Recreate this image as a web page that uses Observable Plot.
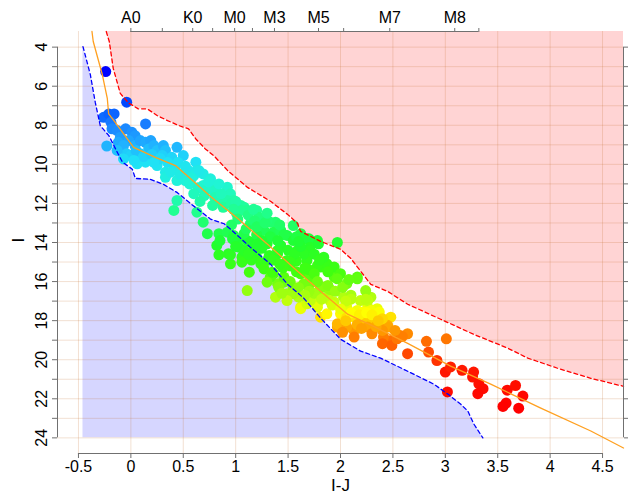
<!DOCTYPE html>
<html>
<head>
<meta charset="utf-8">
<script src="https://cdn.jsdelivr.net/npm/d3@7"></script>
<script src="https://cdn.jsdelivr.net/npm/@observablehq/plot@0.6"></script>
<style>
  html, body { margin: 0; padding: 0; background: white; }
  svg { display: block; }
</style>
</head>
<body>
<div id="chart"></div>
<script>
// ---- data: I-J colour and I magnitude of each star ----
const ij = [
-0.24,-0.04,-0.26,-0.21,-0.16,-0.19,0.14,-0.18,-0.13,-0.05,
-0.10,0.01,0.04,-0.02,-0.23,-0.12,-0.07,-0.04,0.04,0.09,
0.14,0.19,0.17,0.22,0.25,0.00,0.06,0.14,0.09,0.31,
0.33,0.44,0.30,0.39,0.50,0.25,0.42,0.62,0.33,0.55,
0.63,-0.13,-0.07,0.33,0.44,0.69,0.76,0.92,0.82,0.95,
1.08,1.20,1.01,0.89,0.41,0.44,0.63,0.69,0.73,0.84,
0.92,0.52,0.60,0.65,0.69,0.76,0.79,0.95,0.85,1.05,
1.11,1.24,1.33,1.38,1.55,0.82,0.93,0.95,1.06,1.13,
1.03,1.11,1.20,1.24,1.11,1.30,1.40,1.36,1.38,1.49,
1.62,1.78,1.71,1.81,1.78,1.70,1.97,2.16,2.29,2.48,
2.35,2.26,2.00,1.97,2.13,2.06,2.19,2.26,2.32,2.45,
2.48,2.57,2.64,2.41,2.13,1.81,1.78,1.87,1.94,1.68,
1.60,1.55,1.46,1.40,1.33,0.98,0.92,1.05,1.22,1.30,
1.27,1.36,1.43,1.49,1.62,1.68,1.55,1.14,1.08,0.98,
0.85,1.01,1.14,1.30,1.43,1.71,0.97,0.84,0.95,1.06,
1.32,1.17,1.08,1.27,1.35,1.30,1.41,1.46,1.55,1.49,
1.62,1.68,1.78,1.62,1.71,1.81,1.68,1.87,1.94,1.90,
1.87,1.49,1.40,1.59,1.71,1.79,1.65,1.84,1.78,1.94,
2.00,1.97,2.16,2.06,2.24,2.19,2.26,2.03,1.84,1.65,
1.71,2.06,2.16,2.29,2.37,2.22,2.13,1.97,2.26,2.38,
2.45,2.06,2.22,2.30,2.40,2.40,2.49,2.54,2.59,2.64,
2.82,3.01,2.84,2.92,3.00,3.05,3.16,3.26,3.27,3.32,
3.36,3.31,3.02,3.59,3.67,3.74,3.58,3.55,3.70,
1.20,1.25,1.52,1.58,1.70,1.90,2.10,1.75,
0.05,0.12,0.20,0.28,0.35,0.45,0.52,0.38,0.47,0.58,0.22,0.03,
0.56,0.64,0.72,0.70,0.80,0.86,0.60,0.66,0.78,0.88,0.96,1.00,0.74,0.84,0.98,
1.12,1.18,1.02,0.96,1.10,1.20,1.28,1.42,1.46,1.33,1.25,1.40,1.58,1.17,1.30,
1.50,1.56,1.62,1.75,1.80,1.52,1.45,1.58,1.66,1.75,1.88,1.20,1.36,1.42,1.15,1.00,1.12,1.60,
1.52,1.60,1.70,1.78,1.88,1.95,2.02,2.10,1.82,1.92,2.05,1.66,1.44,2.08,2.24,
2.00,2.10,2.18,2.25,2.30,2.40,2.16,2.05,2.34,2.20,2.02,2.52,2.36
];
const mag = [
5.25,6.82,7.59,7.42,7.42,7.85,7.93,8.18,8.27,8.18,
8.61,8.36,8.53,8.78,9.06,8.87,9.04,9.46,9.04,8.78,
8.87,8.78,9.21,9.04,9.29,9.55,9.97,9.89,9.46,9.04,
9.29,9.13,9.55,9.64,9.55,10.06,10.15,9.89,10.40,10.32,
10.32,9.29,9.72,10.66,10.83,10.49,11.00,11.17,11.43,11.68,
12.19,12.36,12.53,11.85,12.36,11.85,12.45,12.96,13.55,13.55,
13.47,10.83,10.57,10.32,11.08,10.74,11.34,11.51,11.85,12.11,
12.36,12.79,12.96,12.96,13.13,14.15,14.58,15.09,14.75,15.52,
14.24,16.46,14.75,15.09,13.90,14.92,14.58,15.60,16.80,16.62,
17.31,16.62,16.11,15.26,13.90,13.81,14.00,15.77,16.80,17.82,
17.39,17.31,17.65,18.33,18.50,17.82,18.16,17.82,17.99,18.24,
19.01,18.76,18.67,18.84,18.84,17.82,17.14,16.80,17.05,16.88,
16.80,16.29,16.03,16.11,15.77,11.85,11.85,12.36,12.71,12.87,
13.38,13.47,13.38,13.64,13.55,13.81,13.90,13.04,13.55,13.64,
13.90,13.90,13.98,14.07,14.15,14.24,13.81,14.63,14.63,15.01,
14.67,14.41,14.41,15.35,15.52,16.03,16.29,15.77,16.62,16.97,
17.39,17.14,17.31,15.60,15.77,16.29,14.92,15.09,15.77,16.97,
17.65,14.92,14.41,14.41,14.41,14.07,14.58,14.75,15.18,15.26,
15.60,15.86,15.86,16.11,16.46,16.97,16.97,16.80,16.29,16.11,
16.97,17.31,17.48,17.48,17.56,17.99,17.82,18.16,18.33,18.16,
18.33,18.33,17.56,18.67,18.50,19.18,19.27,18.93,18.81,19.69,
19.06,18.93,19.61,20.04,20.63,20.37,20.54,20.89,20.63,21.23,
21.48,21.74,21.65,21.56,21.32,21.86,22.22,22.39,22.48,
13.60,14.30,15.20,14.95,15.40,16.40,16.70,16.60,
9.30,9.60,9.50,9.70,9.90,9.90,10.10,10.40,10.50,10.70,9.90,9.80,
11.00,11.20,11.30,11.60,11.70,11.50,11.50,11.90,12.10,12.20,12.00,11.90,10.90,11.00,12.30,
12.60,12.90,12.80,13.10,13.30,13.20,13.00,13.10,13.60,13.70,13.90,13.90,13.70,12.30,12.50,
14.40,14.60,14.20,14.60,14.90,15.00,15.30,15.50,15.30,15.60,15.50,14.10,14.90,15.10,14.90,14.20,14.60,13.95,
16.00,16.30,16.50,16.00,16.20,16.50,16.30,16.90,16.90,17.20,17.00,16.70,16.60,15.90,16.90,
17.40,17.60,17.70,17.60,17.70,17.90,18.20,18.00,18.30,18.40,18.60,18.50,18.00
];

// fitted sequence (orange line)
const seqX = [-0.371,-0.359,-0.273,-0.225,-0.212,-0.149,0.026,0.234,0.425,0.597,0.760,1.017,1.304,1.590,1.810,2.068,2.316,2.641,3.050,3.433,3.911,4.388,4.700];
const seqY = [3.20,3.71,5.40,6.62,7.42,7.85,9.13,9.64,10.06,10.87,11.64,12.76,14.09,15.47,16.50,17.67,18.29,19.16,20.33,21.25,22.48,23.65,24.52];

// upper (red) limit
const upX = [-0.235,-0.206,-0.168,-0.101,-0.024,0.071,0.157,0.250,0.350,0.460,0.550,0.620,0.710,0.790,0.922,1.113,1.332,1.495,1.590,1.619,1.810,2.001,2.097,2.192,2.289,2.449,2.641,2.956,3.271,3.596,3.787,4.073,4.388,4.700];
const upY = [3.20,3.71,5.09,6.37,6.85,7.16,7.16,7.50,7.76,8.02,8.18,8.70,9.21,9.55,10.31,11.18,11.89,12.56,13.02,13.43,13.94,14.35,14.81,15.47,16.14,16.50,17.16,17.93,18.70,19.41,19.92,20.44,20.95,21.36];

// lower (blue) limit
const loX = [-0.457,-0.387,-0.340,-0.292,-0.210,-0.130,-0.080,0.014,0.043,0.186,0.310,0.444,0.568,0.759,0.890,1.010,1.141,1.332,1.495,1.648,1.810,2.001,2.192,2.383,2.641,2.890,3.024,3.148,3.215,3.272,3.358];
const loY = [3.97,5.40,6.82,8.02,8.53,9.38,9.89,10.25,10.72,10.77,11.02,11.45,12.00,12.80,13.04,13.60,14.25,15.11,16.14,16.84,17.87,18.95,19.56,19.92,20.59,21.25,21.76,22.28,22.63,23.29,24.00];

// axes
const xDomain = [-0.7, 4.7];
const yDomain = [3.2, 24.8];
const xTicks = [-0.5, 0, 0.5, 1, 1.5, 2, 2.5, 3, 3.5, 4, 4.5];
const yTicks = [4,5,6,7,8,9,10,11,12,13,14,15,16,17,18,19,20,21,22,23,24];
const yLabels = [4,6,8,10,12,14,16,18,20,22,24];
const specAt = [0, 0.30, 0.59, 0.78, 0.99, 1.16, 1.37, 1.79, 2.03, 2.47, 3.09, 3.32];
const specLab = ["A0", "", "K0", "", "M0", "", "M3", "M5", "", "M7", "M8", ""];

// colour ramp (by I)
const colStops = [5.2, 7.0, 8.0, 9.0, 9.8, 11.0, 12.4, 14.0, 15.5, 16.8, 17.6, 18.2, 19.0, 20.5, 22.5];
const colRange = ["#0000ff","#0050ff","#1a80ff","#20b0ff","#20e0f8","#20f5d5","#20ff90","#20ff30","#40ff10","#b0ff10","#ffff00","#ffb000","#ff7000","#ff1800","#ff0000"];

const pts = ij.map((x, i) => ({x, y: mag[i]}));
const seq = seqX.map((x, i) => ({x, y: seqY[i]}));
const up = upX.map((x, i) => ({x, y: upY[i], xr: xDomain[1]}));
const lo = loX.map((x, i) => ({x, y: loY[i], xl: loX[0]}));
const specMap = new Map(specAt.map((a, i) => [a, specLab[i]]));

const axisCol = "#707070";
const gridCol = "#c37332";

const chart = Plot.plot({
  width: 636,
  height: 500,
  marginLeft: 57,
  marginRight: 13,
  marginTop: 31,
  marginBottom: 47,
  style: {fontFamily: "'Liberation Sans', Arial, Helvetica, sans-serif", fontSize: "16px", background: "white", color: "black"},
  x: {domain: xDomain},
  y: {domain: yDomain, reverse: true},
  color: {type: "linear", domain: colStops, range: colRange},
  marks: [
    Plot.areaX(up, {y: "y", x1: "x", x2: "xr", fill: "red", fillOpacity: 0.17}),
    Plot.areaX(lo, {y: "y", x1: "xl", x2: "x", fill: "blue", fillOpacity: 0.16}),
    Plot.ruleX(xTicks, {stroke: gridCol, strokeOpacity: 0.22}),
    Plot.ruleY(yTicks, {stroke: gridCol, strokeOpacity: 0.22}),
    Plot.dot(pts, {x: "x", y: "y", r: 5.5, fill: "y"}),
    Plot.line(lo, {x: "x", y: "y", stroke: "blue", strokeWidth: 1.3, strokeDasharray: "4,3"}),
    Plot.line(up, {x: "x", y: "y", stroke: "red", strokeWidth: 1.3, strokeDasharray: "4,3"}),
    Plot.line(seq, {x: "x", y: "y", stroke: "#ffa020", strokeWidth: 1.3}),
    // axis lines
    Plot.ruleY([{y: yDomain[1], x1: xTicks[0], x2: xTicks[xTicks.length - 1]}], {y: "y", x1: "x1", x2: "x2", stroke: axisCol}),
    Plot.ruleY([{y: yDomain[0], x1: specAt[0], x2: specAt[specAt.length - 1]}], {y: "y", x1: "x1", x2: "x2", stroke: axisCol}),
    Plot.ruleX([{x: xDomain[0], y1: yTicks[0], y2: yTicks[yTicks.length - 1]}], {x: "x", y1: "y1", y2: "y2", stroke: axisCol}),
    Plot.ruleX([{x: xDomain[1], y1: yTicks[0], y2: yTicks[yTicks.length - 1]}], {x: "x", y1: "y1", y2: "y2", stroke: axisCol}),
    // axes
    Plot.axisX(xTicks, {anchor: "bottom", tickSize: 5, tickPadding: 2, tickFormat: d => String(d), label: null, stroke: axisCol, fill: "black", fontSize: 16}),
    Plot.axisX(specAt, {anchor: "top", tickSize: 4, tickPadding: 5, tickFormat: d => specMap.get(d), label: null, stroke: axisCol, fill: "black", fontSize: 16}),
    Plot.axisY(yTicks, {anchor: "left", tickSize: 5, tickPadding: 6, tickRotate: -90, tickFormat: d => yLabels.includes(d) ? String(d) : "", label: null, stroke: axisCol, fill: "black", fontSize: 16}),
    Plot.axisY(yTicks, {anchor: "right", tickSize: 4, tickFormat: () => "", label: null, stroke: axisCol}),
    Plot.text(["I"], {frameAnchor: "left", dx: -39, rotate: -90, fontSize: 17}),
    Plot.text(["I-J"], {frameAnchor: "bottom", dy: 37, fontSize: 17})
  ]
});
document.getElementById("chart").appendChild(chart);
</script>
</body>
</html>
